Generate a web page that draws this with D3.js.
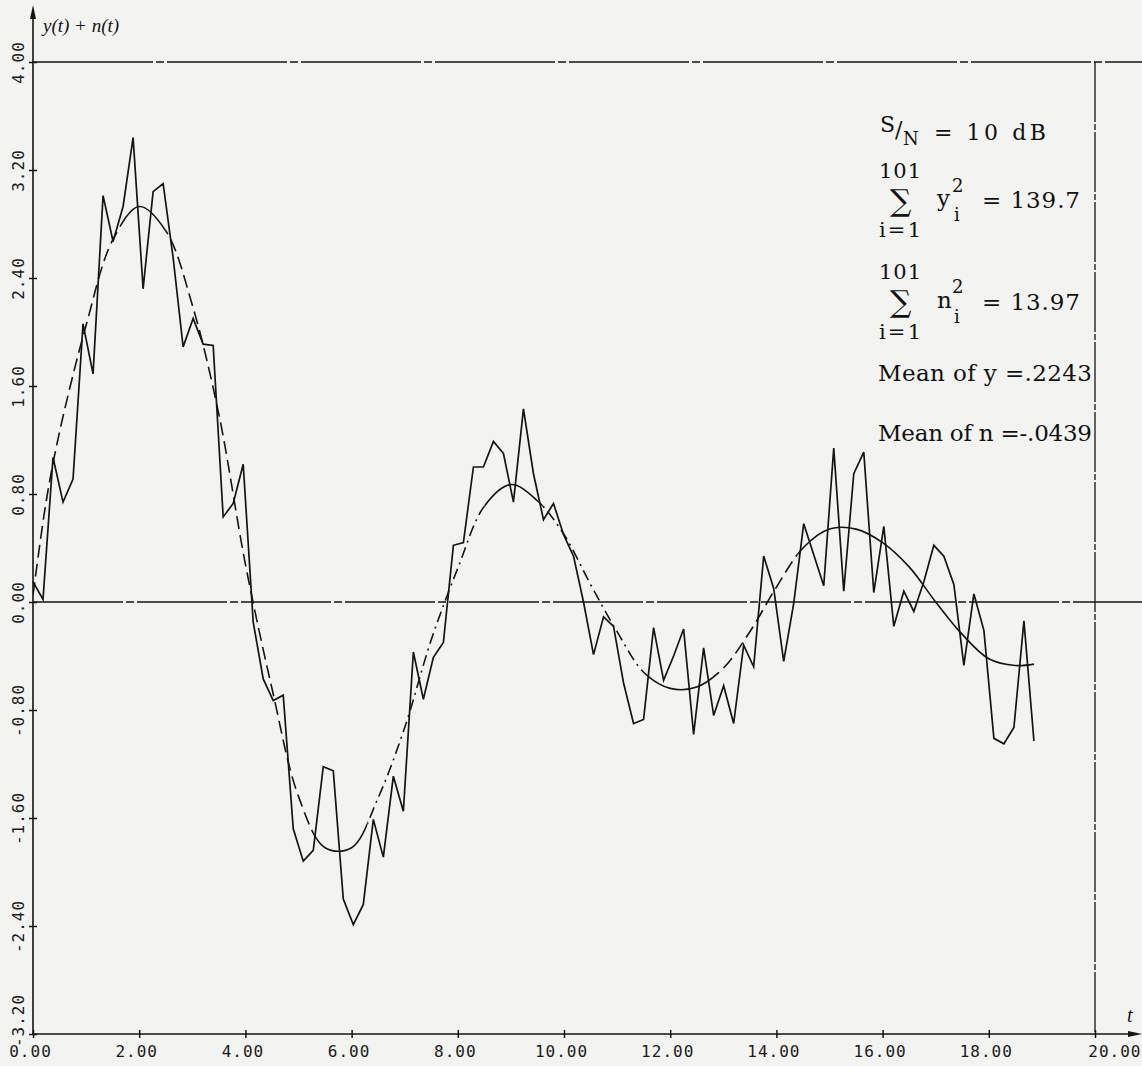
<!DOCTYPE html>
<html>
<head>
<meta charset="utf-8">
<script src="https://cdn.jsdelivr.net/npm/d3@7"></script>
<style>
  html, body { margin: 0; padding: 0; background: #f3f3f2; }
  svg { display: block; }
  .tick text { font-family: "DejaVu Sans Mono", monospace; font-size: 16px; fill: #1a1a1a; letter-spacing: 1px; }
  .note { font-family: "DejaVu Serif", serif; fill: #111; }
</style>
</head>
<body>
<svg id="chart" width="1142" height="1066"></svg>
<script>
// 101 samples spread evenly over 0 .. 6π
const SAMPLE_COUNT = 101;
const T_END = 18.85;

// received waveform y(t) + n(t), one value per sample
const noisyValues = [
  0.15, 0.02, 1.07, 0.74, 0.91, 2.06, 1.69, 3.01, 2.67, 2.93,
  3.44, 2.32, 3.04, 3.10, 2.55, 1.89, 2.10, 1.91, 1.90, 0.63,
  0.73, 1.02, -0.15, -0.57, -0.73, -0.69, -1.68, -1.92, -1.84, -1.22,
  -1.25, -2.20, -2.39, -2.24, -1.61, -1.89, -1.29, -1.55, -0.37, -0.72,
  -0.41, -0.30, 0.42, 0.44, 1.00, 1.00, 1.19, 1.10, 0.74, 1.43,
  0.95, 0.61, 0.73, 0.50, 0.34, 0.00, -0.39, -0.11, -0.18, -0.60,
  -0.90, -0.87, -0.19, -0.58, -0.40, -0.20, -0.98, -0.34, -0.84, -0.62,
  -0.90, -0.32, -0.48, 0.34, 0.10, -0.44, -0.01, 0.58, 0.35, 0.12,
  1.14, 0.08, 0.95, 1.11, 0.07, 0.56, -0.18, 0.08, -0.07, 0.15,
  0.42, 0.34, 0.13, -0.47, 0.06, -0.21, -1.01, -1.05, -0.93, -0.14,
  -1.03
];

// clean signal y(t)
const signalTimes = [
  0, 0.25, 0.5, 1.0, 1.5, 2.0, 2.5, 3.0, 3.5, 4.0,
  4.5, 5.0, 5.5, 6.0, 6.5, 7.0, 7.5, 8.0, 8.5, 9.0,
  9.5, 10.0, 10.5, 11.0, 11.5, 12.0, 12.5, 13.0, 13.5, 14.0,
  14.5, 15.0, 15.5, 16.0, 16.5, 17.0, 17.5, 18.0, 18.5, 18.85
];
const signalValues = [
  0.05, 0.75, 1.26, 2.05, 2.68, 2.93, 2.75, 2.20, 1.39, 0.28,
  -0.64, -1.44, -1.82, -1.82, -1.45, -0.93, -0.28, 0.25, 0.71, 0.87,
  0.75, 0.50, 0.13, -0.22, -0.52, -0.64, -0.63, -0.49, -0.22, 0.11,
  0.40, 0.54, 0.54, 0.44, 0.26, 0.00, -0.24, -0.42, -0.47, -0.46
];

const xTickValues = [0, 2, 4, 6, 8, 10, 12, 14, 16, 18, 20];
const xTickLabels = ["0.00", "2.00", "4.00", "6.00", "8.00", "10.00", "12.00", "14.00", "16.00", "18.00", "20.00"];
const yTickValues = [-3.2, -2.4, -1.6, -0.8, 0, 0.8, 1.6, 2.4, 3.2, 4.0];
const yTickLabels = ["-3.20", "-2.40", "-1.60", "-0.80", "0.00", "0.80", "1.60", "2.40", "3.20", "4.00"];

// pen styles along the clean signal (plotter alternates solid and chain lines)
const SIGNAL_STROKES = [
  { from: 0,    to: 1.75, dash: "13,6" },
  { from: 1.75, to: 2.5,  dash: null },
  { from: 2.5,  to: 5.3,  dash: "13,6" },
  { from: 5.3,  to: 6.3,  dash: null },
  { from: 6.3,  to: 8.5,  dash: "11,5,2,5" },
  { from: 8.5,  to: 9.6,  dash: null },
  { from: 9.6,  to: 11.6, dash: "11,5,2,5" },
  { from: 11.6, to: 12.9, dash: null },
  { from: 12.9, to: 14.4, dash: "13,6" },
  { from: 14.4, to: 19.5, dash: null }
];

const svg = d3.select("#chart");
const ink = "#141414";

const x = d3.scaleLinear().domain([0, 20]).range([33, 1095]);
const y = d3.scaleLinear().domain([-3.2, 4]).range([1034, 62]);

// frame lines: top (4.00), zero line, right edge at t = 20
svg.append("line")
  .attr("x1", x(0)).attr("x2", 1142).attr("y1", y(4)).attr("y2", y(4))
  .attr("stroke", ink).attr("stroke-width", 1.3).attr("stroke-dasharray", "120,3,8,3");
svg.append("line")
  .attr("x1", x(0)).attr("x2", 1142).attr("y1", y(0)).attr("y2", y(0))
  .attr("stroke", ink).attr("stroke-width", 1.3).attr("stroke-dasharray", "90,3,8,3");
svg.append("line")
  .attr("x1", x(20)).attr("x2", x(20)).attr("y1", y(4)).attr("y2", y(-3.2))
  .attr("stroke", ink).attr("stroke-width", 1.3).attr("stroke-dasharray", "60,2,6,2");

// y axis with cross ticks
const yAxis = svg.append("g").attr("transform", `translate(${x(0)},0)`)
  .call(d3.axisLeft(y).tickValues(yTickValues)
    .tickFormat((d, i) => yTickLabels[i]).tickSizeInner(4).tickSizeOuter(0));
yAxis.select(".domain").remove();
yAxis.selectAll(".tick line").attr("stroke", ink).attr("stroke-width", 1.5).attr("x2", 4).attr("x1", -4);
yAxis.selectAll(".tick text")
  .attr("transform", "rotate(-90)")
  .attr("x", (d, i) => i === 0 ? 14 : 0)
  .attr("y", -9).attr("dy", null)
  .attr("text-anchor", "middle");

// x axis with cross ticks
const xAxis = svg.append("g").attr("transform", `translate(0,${y(-3.2)})`)
  .call(d3.axisBottom(x).tickValues(xTickValues)
    .tickFormat((d, i) => xTickLabels[i]).tickSizeInner(4).tickSizeOuter(0));
xAxis.select(".domain").remove();
xAxis.selectAll(".tick line").attr("stroke", ink).attr("stroke-width", 1.5).attr("y1", -4).attr("y2", 4);
xAxis.selectAll(".tick text")
  .attr("y", 12).attr("dy", "0.71em")
  .attr("dx", (d, i) => i === xTickValues.length - 1 ? 0 : -3)
  .attr("text-anchor", (d, i) => i === xTickValues.length - 1 ? "end" : "middle")
  .attr("x", (d, i) => i === xTickValues.length - 1 ? 1141 - x(20) : 0);

// axis lines with arrow heads
svg.append("line").attr("x1", x(0)).attr("x2", x(0)).attr("y1", y(-3.2) + 1).attr("y2", 12)
  .attr("stroke", ink).attr("stroke-width", 1.6);
svg.append("path").attr("d", `M${x(0)},5 L${x(0) - 3},19 L${x(0) + 3},19 Z`).attr("fill", ink);
svg.append("line").attr("x1", x(0) - 1).attr("x2", 1134).attr("y1", y(-3.2)).attr("y2", y(-3.2))
  .attr("stroke", ink).attr("stroke-width", 1.6);
svg.append("path").attr("d", `M1142,${y(-3.2)} L1128,${y(-3.2) - 3} L1128,${y(-3.2) + 3} Z`).attr("fill", ink);

// axis titles
svg.append("text").attr("x", 43).attr("y", 32)
  .attr("font-family", "'Liberation Serif', serif").attr("font-style", "italic")
  .attr("font-size", 19).attr("fill", ink).text("y(t) + n(t)");
svg.append("text").attr("x", 1127).attr("y", 1022)
  .attr("font-family", "'Liberation Serif', serif").attr("font-style", "italic")
  .attr("font-size", 20).attr("fill", ink).text("t");

// clean signal, drawn in pen-style pieces
const defs = svg.append("defs");
SIGNAL_STROKES.forEach((s, k) => {
  defs.append("clipPath").attr("id", "seg" + k)
    .append("rect")
    .attr("x", x(s.from)).attr("width", x(s.to) - x(s.from))
    .attr("y", 0).attr("height", 1066);
});
const signalLine = d3.line()
  .x((d, i) => x(signalTimes[i]))
  .y(d => y(d))
  .curve(d3.curveCatmullRom.alpha(0.5));
SIGNAL_STROKES.forEach((s, k) => {
  svg.append("path")
    .attr("d", signalLine(signalValues))
    .attr("clip-path", `url(#seg${k})`)
    .attr("fill", "none").attr("stroke", ink).attr("stroke-width", 1.6)
    .attr("stroke-dasharray", s.dash);
});

// noisy waveform
const step = T_END / (SAMPLE_COUNT - 1);
const noisyLine = d3.line()
  .x((d, i) => x(i * step))
  .y(d => y(d));
svg.append("path")
  .attr("d", noisyLine(noisyValues))
  .attr("fill", "none").attr("stroke", ink).attr("stroke-width", 1.7)
  .attr("stroke-linejoin", "miter");

// statistics block
const notes = svg.append("g").attr("class", "note");
function note(tx, ty, str, size, len) {
  const t = notes.append("text").attr("x", tx).attr("y", ty).attr("font-size", size).text(str);
  if (len) t.attr("textLength", len).attr("lengthAdjust", "spacing");
  return t;
}
note(880, 132, "S", 22);
note(895, 137, "/", 22);
note(903, 145, "N", 18);
note(934, 140, "= 10 dB", 22, 112);

note(879, 178, "101", 21, 42);
note(890, 211, "\u2211", 30);
note(937, 206, "y", 23);
note(952, 192, "2", 18);
note(954, 221, "i", 18);
note(982, 208, "= 139.7", 23, 98);
note(879, 237, "i=1", 21, 42);

note(879, 279, "101", 21, 42);
note(890, 312, "\u2211", 30);
note(937, 308, "n", 23);
note(952, 293, "2", 18);
note(954, 323, "i", 18);
note(982, 310, "= 13.97", 23, 98);
note(879, 339, "i=1", 21, 42);

note(878, 381, "Mean of y =.2243", 23, 214);
note(878, 441, "Mean of n =-.0439", 23, 214);
</script>
</body>
</html>
